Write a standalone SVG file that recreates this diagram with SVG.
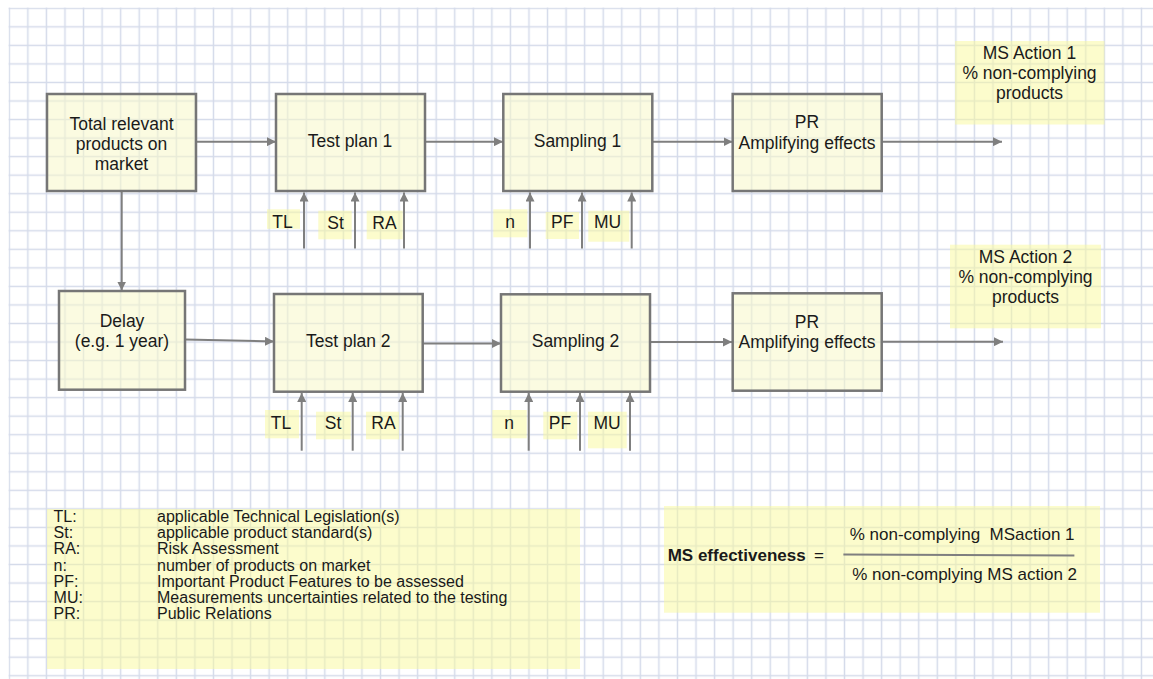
<svg xmlns="http://www.w3.org/2000/svg" width="1153" height="679" viewBox="0 0 1153 679">
  <defs>
    <pattern id="gridpat" patternUnits="userSpaceOnUse" x="0.02" y="-0.97" width="18.56" height="18.54">
      <path d="M9.28,0 V18.54 M0,9.27 H18.56" stroke="#d5dbea" stroke-width="1.5" fill="none"/>
    </pattern>
    <marker id="arr" markerUnits="userSpaceOnUse" markerWidth="10" markerHeight="9" refX="9" refY="4.5" orient="auto">
      <path d="M0,0 L9,4.5 L0,9 z" fill="#7f7f7f"/>
    </marker>
    <style>
      text { font-family: "Liberation Sans", Arial, sans-serif; font-size: 17.5px; fill: #1a1a1a; }
      .c { text-anchor: middle; }
      .lg { font-size: 16px; }
      .fm { font-size: 17px; }
      .box { fill: #f8f8c8; fill-opacity: 0.55; stroke: #767676; stroke-width: 2.5; }
      .hl { fill: #f9f99a; fill-opacity: 0.5; stroke: none; }
      .con { stroke: #7f7f7f; stroke-width: 2; fill: none; marker-end: url(#arr); }
      .frac { stroke: #7f7f7f; stroke-width: 2; fill: none; }
    </style>
  </defs>

  <rect x="0" y="0" width="1153" height="679" fill="#ffffff"/>
  <rect x="8.55" y="7.55" width="1144.45" height="671.45" fill="url(#gridpat)"/>

  <g id="connectors">
    <line class="con" x1="196" y1="141.7" x2="276" y2="141.7"/>
    <line class="con" x1="425" y1="141.7" x2="503" y2="141.7"/>
    <line class="con" x1="652" y1="141.7" x2="732.5" y2="141.7"/>
    <line class="con" x1="882" y1="141.7" x2="1002" y2="141.7"/>
    <line class="con" x1="121.7" y1="191" x2="121.7" y2="290.5"/>
    <line class="con" x1="185" y1="339.5" x2="274" y2="341.5"/>
    <line class="con" x1="422.7" y1="343.5" x2="501" y2="343.5"/>
    <line class="con" x1="650" y1="342" x2="732" y2="342"/>
    <line class="con" x1="882" y1="341.7" x2="1003" y2="341.7"/>
    <line class="con" x1="304" y1="248.5" x2="304" y2="192.5"/>
    <line class="con" x1="355" y1="248.5" x2="355" y2="192.5"/>
    <line class="con" x1="404" y1="248.5" x2="404" y2="192.5"/>
    <line class="con" x1="530" y1="248.5" x2="530" y2="192.5"/>
    <line class="con" x1="582" y1="248.5" x2="582" y2="192.5"/>
    <line class="con" x1="631.7" y1="248.5" x2="631.7" y2="192.5"/>
    <line class="con" x1="301.7" y1="450.7" x2="301.7" y2="393"/>
    <line class="con" x1="352.7" y1="450.7" x2="352.7" y2="393"/>
    <line class="con" x1="402.7" y1="450.7" x2="402.7" y2="393"/>
    <line class="con" x1="528.7" y1="450.7" x2="528.7" y2="393"/>
    <line class="con" x1="580" y1="450.7" x2="580" y2="393"/>
    <line class="con" x1="630" y1="450.7" x2="630" y2="393"/>
  </g>

  <g id="total">
    <rect class="box" x="47" y="94" width="149" height="97"/>
    <text class="c" x="121.5" y="129.5">Total relevant</text>
    <text class="c" x="121.5" y="149.5">products on</text>
    <text class="c" x="121.5" y="169.5">market</text>
  </g>
  <g id="testplan1">
    <rect class="box" x="276" y="94" width="149" height="97"/>
    <text class="c" x="350" y="146.7">Test plan 1</text>
  </g>
  <g id="sampling1">
    <rect class="box" x="503.3" y="94" width="149" height="97"/>
    <text class="c" x="577.5" y="146.7">Sampling 1</text>
  </g>
  <g id="pr1">
    <rect class="box" x="732.7" y="94" width="149" height="97"/>
    <text class="c" x="807" y="128.3">PR</text>
    <text class="c" x="807" y="149">Amplifying effects</text>
  </g>
  <g id="msaction1">
    <rect class="hl" x="955" y="41" width="149.5" height="83.5"/>
    <text class="c" x="1029.5" y="59">MS Action 1</text>
    <text class="c" x="1029.5" y="79">% non-complying</text>
    <text class="c" x="1029.5" y="99">products</text>
  </g>

  <g id="delay">
    <rect class="box" x="59" y="291" width="126" height="98.7"/>
    <text class="c" x="122" y="327.3">Delay</text>
    <text class="c" x="122" y="347.3">(e.g. 1 year)</text>
  </g>
  <g id="testplan2">
    <rect class="box" x="274" y="294" width="148.7" height="97.7"/>
    <text class="c" x="348.3" y="346.7">Test plan 2</text>
  </g>
  <g id="sampling2">
    <rect class="box" x="501" y="294.3" width="149" height="97.4"/>
    <text class="c" x="575.5" y="346.7">Sampling 2</text>
  </g>
  <g id="pr2">
    <rect class="box" x="732.7" y="293.3" width="149" height="97.4"/>
    <text class="c" x="807" y="328.3">PR</text>
    <text class="c" x="807" y="348.3">Amplifying effects</text>
  </g>
  <g id="msaction2">
    <rect class="hl" x="950" y="244.7" width="151" height="83.6"/>
    <text class="c" x="1025.5" y="262.5">MS Action 2</text>
    <text class="c" x="1025.5" y="282.5">% non-complying</text>
    <text class="c" x="1025.5" y="302.5">products</text>
  </g>

  <g id="in1-tl"><rect class="hl" x="267" y="209.3" width="33" height="19.5"/><text class="c" x="282.5" y="228.3">TL</text></g>
  <g id="in1-st"><rect class="hl" x="318.3" y="210.7" width="33.4" height="28.6"/><text class="c" x="335.5" y="229">St</text></g>
  <g id="in1-ra"><rect class="hl" x="366.7" y="210.7" width="36" height="28.6"/><text class="c" x="384.5" y="229">RA</text></g>
  <g id="in1-n"><rect class="hl" x="493.3" y="209.3" width="34" height="28"/><text class="c" x="510" y="228.3">n</text></g>
  <g id="in1-pf"><rect class="hl" x="545.7" y="212" width="33.3" height="27"/><text class="c" x="562.2" y="228.3">PF</text></g>
  <g id="in1-mu"><rect class="hl" x="588.3" y="210.7" width="41" height="31"/><text class="c" x="607.5" y="228.3">MU</text></g>

  <g id="in2-tl"><rect class="hl" x="265" y="410" width="34" height="28.3"/><text class="c" x="281" y="429">TL</text></g>
  <g id="in2-st"><rect class="hl" x="316" y="411.7" width="34.7" height="27.6"/><text class="c" x="333" y="429">St</text></g>
  <g id="in2-ra"><rect class="hl" x="366" y="411.7" width="33" height="27.6"/><text class="c" x="383.5" y="429">RA</text></g>
  <g id="in2-n"><rect class="hl" x="492.3" y="410" width="34.4" height="28.3"/><text class="c" x="509" y="429">n</text></g>
  <g id="in2-pf"><rect class="hl" x="543.3" y="411.7" width="34" height="27.6"/><text class="c" x="560" y="429">PF</text></g>
  <g id="in2-mu"><rect class="hl" x="588" y="411.7" width="38.7" height="36.6"/><text class="c" x="607" y="429">MU</text></g>

  <g id="legend">
    <rect class="hl" x="47" y="509" width="533" height="160"/>
    <text class="lg" x="53.6" y="522">TL:</text><text class="lg" x="157" y="522">applicable Technical Legislation(s)</text>
    <text class="lg" x="53.6" y="538.2">St:</text><text class="lg" x="157" y="538.2">applicable product standard(s)</text>
    <text class="lg" x="53.6" y="554.4">RA:</text><text class="lg" x="157" y="554.4">Risk Assessment</text>
    <text class="lg" x="53.6" y="570.6">n:</text><text class="lg" x="157" y="570.6">number of products on market</text>
    <text class="lg" x="53.6" y="586.8">PF:</text><text class="lg" x="157" y="586.8">Important Product Features to be assessed</text>
    <text class="lg" x="53.6" y="603">MU:</text><text class="lg" x="157" y="603">Measurements uncertainties related to the testing</text>
    <text class="lg" x="53.6" y="619.2">PR:</text><text class="lg" x="157" y="619.2">Public Relations</text>
  </g>

  <g id="formula">
    <rect class="hl" x="664" y="506" width="436" height="106.7"/>
    <text class="fm" x="667.7" y="561" font-weight="bold">MS effectiveness</text>
    <text class="fm" x="814" y="561">=</text>
    <text class="fm" x="849.7" y="540" xml:space="preserve">% non-complying  MSaction 1</text>
    <path class="frac" d="M843.4,554.5 L1074.4,555.5"/>
    <text class="fm" x="852.2" y="580">% non-complying MS action 2</text>
  </g>
</svg>
